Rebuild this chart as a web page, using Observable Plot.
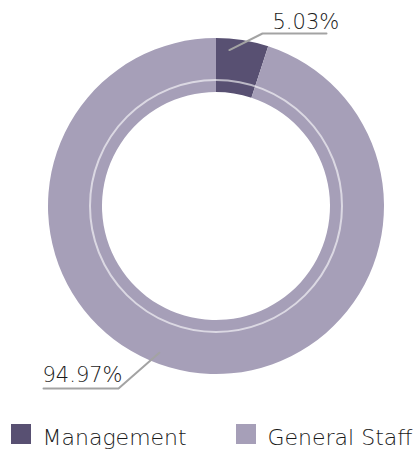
<!DOCTYPE html>
<html><head><meta charset="utf-8">
<script src="https://cdn.jsdelivr.net/npm/d3@7"></script>
<script src="https://cdn.jsdelivr.net/npm/@observablehq/plot@0.6"></script>
<style>body{margin:0;background:#fff}</style>
</head><body><div id="chart"></div>
<script>
const categories = ["Management", "General Staff"];
const values = [5.03, 94.97];
const labels = ["5.03%", "94.97%"];
const colors = ["#585072", "#a69fb8"];

const W = 420, H = 449;
const cx = 216, cy = 206, rOuter = 168, rInner = 114, rLine = 126;
const font = "'DejaVu Sans', sans-serif";

const pie = d3.pie().sort(null).value(d => d.value)(categories.map((c, i) => ({name: c, value: values[i], color: colors[i], label: labels[i]})));

// leader layout: anchor angle fraction inside slice, elbow and end points
const leaderCfg = [
  {frac: 0.26, r: 157, elbow: [262, 33], end: [326, 33], text: [272, 28]},
  {frac: 0.536, r: 157, elbow: [118, 388], end: [43, 388], text: [42, 381]}
];
const leaders = pie.flatMap((p, i) => {
  const c = leaderCfg[i];
  const a = p.startAngle + c.frac * (p.endAngle - p.startAngle);
  const sx = cx + c.r * Math.sin(a), sy = cy - c.r * Math.cos(a);
  return [{k: i, x: sx, y: sy}, {k: i, x: c.elbow[0], y: c.elbow[1]}, {k: i, x: c.end[0], y: c.end[1]}];
});
const labelRows = pie.map((p, i) => ({x: leaderCfg[i].text[0], y: leaderCfg[i].text[1], t: p.data.label}));

const legendRows = categories.map((c, i) => ({name: c, color: colors[i], x: [11, 236][i]}));

function donut(index, scales, values, dims) {
  const g = d3.create("svg:g");
  const X = scales.x(cx), Y = scales.y(cy);
  const arc = d3.arc().innerRadius(rInner).outerRadius(rOuter);
  g.selectAll("path").data(pie).join("path")
    .attr("transform", `translate(${X},${Y})`)
    .attr("d", arc).attr("fill", d => d.data.color);
  g.append("circle").attr("cx", X).attr("cy", Y).attr("r", rLine)
    .attr("fill", "none").attr("stroke", "#fff").attr("stroke-opacity", 0.6).attr("stroke-width", 2);
  return g.node();
}

const chart = Plot.plot({
  width: W, height: H, margin: 0,
  x: {domain: [0, W], range: [0, W], axis: null},
  y: {domain: [0, H], range: [0, H], axis: null},
  style: {fontFamily: font, background: "#fff"},
  marks: [
    donut,
    Plot.line(leaders, {x: "x", y: "y", z: "k", stroke: "#a3a3a3", strokeWidth: 2}),
    Plot.text(labelRows, {x: "x", y: "y", text: "t", textAnchor: "start", lineAnchor: "bottom", fontSize: 21, fontWeight: 200, fill: "#1a1a1a"}),
    Plot.rect(legendRows, {x1: "x", x2: d => d.x + 20, y1: 424, y2: 444, fill: "color"}),
    Plot.text(legendRows, {x: d => d.x + 31, y: 444, text: "name", textAnchor: "start", lineAnchor: "bottom", fontSize: 22, fontWeight: 200, fill: "#1a1a1a"})
  ]
});
document.getElementById("chart").append(chart);
</script></body></html>
